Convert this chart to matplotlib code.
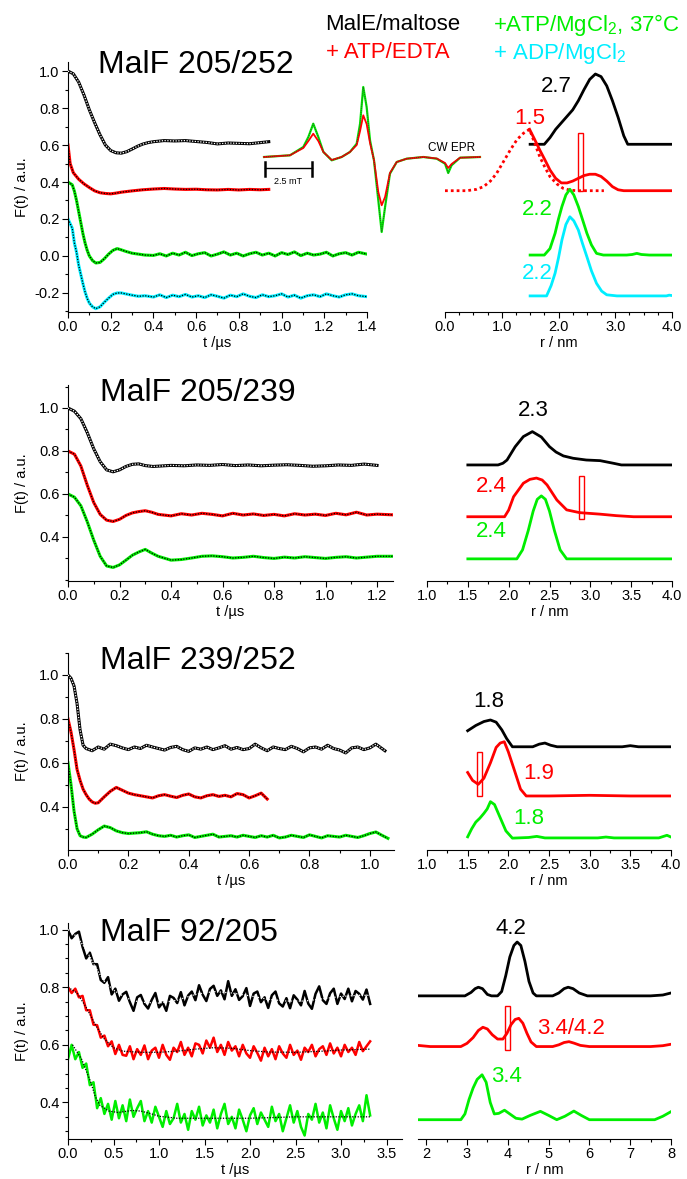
import numpy as np
import matplotlib
matplotlib.use("Agg")
import matplotlib.pyplot as plt
from matplotlib.patches import Rectangle
from matplotlib.ticker import MultipleLocator, FormatStrFormatter

# ---------------- colours ----------------
BLACK = "#000000"
RED = "#ff0000"
GREEN = "#00ee00"
CYAN = "#00eeff"

# ================= panel 1 : MalF 205/252 =================
t1_black = [0, .025, .05, .075, .1, .125, .15, .175, .2, .225, .25, .275, .3, .325, .35, .375, .4, .45, .5, .55,
            .6, .65, .7, .75, .8, .85, .9, .94]
f1_black = [1.0, .985, .94, .87, .79, .72, .655, .6, .57, .558, .556, .564, .578, .593, .605, .613, .618, .624, .622, .624,
            .619, .614, .606, .611, .609, .607, .613, .618]
t1_red = [0, .01, .025, .05, .075, .1, .125, .15, .175, .2, .225, .25, .3, .35, .4, .45, .5, .55, .6, .65,
          .7, .75, .8, .85, .9, .94]
f1_red = [.6, .5, .45, .415, .39, .37, .352, .342, .338, .336, .34, .345, .352, .358, .362, .365, .362, .36, .361, .358,
          .357, .36, .357, .36, .358, .36]
t1_gc = [0, .02, .03, .04, .05, .06, .07, .08, .09, .10, .115, .13, .15, .17, .19, .21, .23, .25, .27, .30,
         .33, .36, .40, .43, .46, .49, .52, .55, .58, .61, .64, .67, .70, .73, .76, .79, .82, .85, .88, .91,
         .94, .97, 1.00, 1.03, 1.06, 1.09, 1.12, 1.15, 1.18, 1.21, 1.24, 1.27, 1.30, 1.33, 1.36, 1.40]
f1_green = [.40, .385, .35, .30, .24, .18, .12, .07, .03, .0, -.025, -.038, -.035, -.015, .01, .03, .04, .033, .025, .015,
            .01, .005, .003, .012, .0, .015, .005, .02, .002, .012, .018, .0, .01, .022, .005, .015, .0, .012, .02, .005,
            .015, .0, .018, .008, .022, .002, .015, .005, .01, .02, .0, .012, .018, .005, .02, .01]
f1_cyan = [.20, .15, .07, .02, -.05, -.10, -.15, -.195, -.23, -.255, -.275, -.285, -.275, -.25, -.228, -.208, -.2, -.2, -.205, -.212,
           -.218, -.215, -.222, -.21, -.225, -.212, -.22, -.208, -.222, -.215, -.225, -.21, -.218, -.228, -.212, -.22, -.205, -.218, -.225, -.21,
           -.22, -.215, -.205, -.222, -.212, -.228, -.215, -.21, -.22, -.205, -.215, -.222, -.21, -.205, -.215, -.22]

r1_black = [1.5, 1.75, 1.85, 1.95, 2.05, 2.15, 2.25, 2.35, 2.45, 2.55, 2.65, 2.75, 2.85, 2.95, 3.05, 3.15, 3.22, 4.0]
p1_black = [.604, .604, .64, .685, .72, .755, .79, .84, .90, .955, .984, .97, .92, .84, .75, .65, .604, .604]
r1_red = [1.49, 1.58, 1.67, 1.76, 1.85, 1.95, 2.05, 2.15, 2.25, 2.35, 2.45, 2.55, 2.65, 2.75, 2.85, 2.95, 3.05, 3.15, 4.0]
p1_red = [.685, .63, .573, .52, .465, .42, .395, .395, .405, .42, .435, .442, .442, .43, .405, .375, .358, .353, .353]
r1_red_dot = [0, .38, .55, .68, .8, .91, 1.03, 1.15, 1.27, 1.38, 1.49, 1.58, 1.67, 1.76, 1.85, 1.97, 2.08, 2.2, 2.32, 2.8]
p1_red_dot = [.353, .353, .36, .375, .405, .447, .51, .573, .63, .663, .685, .61, .537, .48, .429, .39, .366, .356, .353, .353]
r1_green = [1.5, 1.75, 1.85, 1.94, 2.0, 2.06, 2.13, 2.2, 2.27, 2.35, 2.42, 2.5, 2.58, 2.67, 2.79, 3.2, 3.3, 3.38, 3.46, 3.6, 4.0]
p1_green = [.005, .005, .04, .123, .2, .267, .33, .361, .33, .267, .2, .123, .06, .014, .005, .005, .008, .014, .008, .005, .005]
r1_cyan = [1.5, 1.79, 1.87, 1.94, 2.0, 2.06, 2.13, 2.2, 2.27, 2.35, 2.42, 2.5, 2.58, 2.67, 2.76, 2.85, 3.03, 3.9, 3.95, 4.0]
p1_cyan = [-.216, -.216, -.16, -.093, -.01, .086, .17, .212, .19, .14, .07, -.004, -.08, -.148, -.19, -.21, -.216, -.216, -.212, -.214]

# CW EPR spectra (field in mT, arbitrary intensity)
epr_field = [0, 1.38, 2.09, 2.36, 2.62, 2.89, 3.16, 3.60, 4.13, 4.57, 4.93, 5.11, 5.28, 5.46, 5.64, 5.85, 6.08, 6.26, 6.44, 6.70,
             7.06, 7.59, 8.48, 9.19, 9.63, 9.80, 9.98, 10.43, 11.49]
epr_green = [0, .17, 1.0, 2.0, 3.33, 2.0, .5, -.33, 0, .5, 1.33, 3.33, 7.0, 5.0, 1.67, -.33, -4.33, -7.5, -5.0, -1.67,
             -.5, -.17, 0, -.17, -.67, -1.6, -.83, -.07, 0]
epr_red = [0, .17, .9, 1.6, 2.33, 1.6, .5, -.3, 0, .5, 1.2, 2.6, 4.17, 3.3, 1.4, -.3, -3.5, -4.83, -4.0, -1.6,
           -.5, -.17, 0, -.15, -.6, -1.1, -.7, -.07, 0]

# ================= panel 2 : MalF 205/239 =================
t2_black = [0, .025, .05, .075, .1, .125, .15, .175, .2, .225, .25, .275, .3, .33, .36, .4, .45, .5, .55, .6,
            .65, .7, .75, .8, .85, .9, .95, 1.0, 1.05, 1.1, 1.15, 1.2]
f2_black = [1.0, .985, .95, .885, .81, .75, .712, .703, .712, .728, .738, .74, .732, .728, .73, .733, .731, .735, .733, .737,
            .732, .735, .731, .734, .736, .733, .729, .731, .735, .733, .739, .733]
t2 = [0, .025, .05, .075, .1, .125, .15, .175, .2, .225, .25, .275, .3, .325, .35, .4, .44, .48, .52, .56,
      .6, .64, .68, .72, .76, .8, .84, .88, .92, .96, 1.0, 1.04, 1.08, 1.12, 1.16, 1.2, 1.26]
f2_red = [.8, .785, .73, .64, .56, .505, .478, .472, .482, .5, .512, .518, .522, .515, .505, .498, .508, .502, .51, .505,
          .498, .51, .502, .507, .5, .505, .498, .508, .502, .506, .5, .51, .503, .515, .502, .506, .503]
f2_green = [.6, .585, .545, .47, .385, .31, .265, .258, .27, .292, .315, .33, .342, .325, .31, .292, .295, .302, .31, .312,
            .308, .302, .305, .31, .304, .3, .306, .302, .308, .304, .3, .305, .308, .302, .306, .31, .31]

r2_black = [1.5, 1.87, 1.93, 1.98, 2.08, 2.18, 2.29, 2.4, 2.5, 2.58, 2.67, 2.79, 2.95, 3.12, 3.28, 3.38, 4.0]
p2_black = [.735, .735, .743, .758, .82, .867, .89, .865, .82, .795, .777, .766, .758, .755, .743, .735, .735]
r2_red = [1.5, 1.95, 2.0, 2.06, 2.18, 2.26, 2.34, 2.41, 2.47, 2.59, 2.71, 2.87, 3.12, 3.32, 3.53, 4.0]
p2_red = [.494, .494, .525, .587, .65, .668, .674, .665, .642, .572, .526, .513, .506, .499, .494, .494]
r2_green = [1.5, 2.1, 2.17, 2.24, 2.3, 2.35, 2.4, 2.45, 2.5, 2.56, 2.63, 2.71, 4.0]
p2_green = [.298, .298, .34, .43, .52, .575, .591, .575, .52, .43, .34, .298, .298]

# ================= panel 3 : MalF 239/252 =================
t3_black = [0, .01, .02, .03, .04, .05, .06, .08, .10, .12, .14, .16, .18, .20, .22, .24, .26, .28, .30, .32,
            .34, .36, .38, .40, .42, .44, .46, .48, .50, .52, .54, .56, .58, .60, .62, .64, .66, .68, .70, .72,
            .74, .76, .78, .80, .82, .84, .86, .88, .90, .92, .94, .96, .98, 1.00, 1.02, 1.04, 1.05]
f3_black = [1.0, .985, .95, .87, .75, .68, .665, .655, .672, .662, .685, .678, .668, .66, .672, .665, .68, .672, .665, .658,
            .67, .675, .66, .652, .668, .662, .672, .66, .668, .678, .662, .67, .66, .665, .685, .668, .655, .672, .665, .66,
            .675, .665, .65, .668, .672, .662, .68, .665, .658, .645, .668, .672, .66, .668, .685, .665, .655]
t3_red = [0, .01, .02, .03, .04, .05, .06, .07, .08, .09, .10, .12, .14, .16, .18, .20, .22, .24, .26, .28,
          .30, .32, .34, .36, .38, .40, .42, .44, .46, .48, .50, .52, .54, .56, .58, .60, .62, .64, .66]
f3_red = [.8, .74, .66, .57, .52, .48, .455, .435, .422, .416, .418, .445, .47, .488, .475, .462, .455, .45, .445, .44,
          .45, .455, .448, .442, .452, .458, .445, .44, .45, .455, .447, .452, .445, .46, .455, .44, .45, .462, .435]
t3_green = [0, .01, .02, .03, .04, .05, .06, .08, .10, .12, .14, .16, .18, .20, .22, .24, .26, .28, .30, .32,
            .34, .36, .38, .40, .42, .44, .46, .48, .50, .52, .54, .56, .58, .60, .62, .64, .66, .68, .70, .72,
            .74, .76, .78, .80, .82, .84, .86, .88, .90, .92, .94, .96, .98, 1.00, 1.02, 1.04, 1.06]
f3_green = [.6, .5, .38, .3, .268, .262, .26, .275, .295, .312, .305, .29, .282, .278, .28, .282, .286, .275, .268, .265,
            .27, .262, .268, .272, .26, .265, .27, .275, .262, .265, .268, .262, .27, .265, .26, .268, .262, .27, .258, .262,
            .27, .265, .26, .272, .265, .258, .268, .265, .262, .27, .265, .26, .268, .278, .285, .27, .256]

r3_black = [1.5, 1.6, 1.7, 1.78, 1.85, 1.92, 1.98, 2.05, 2.3, 2.38, 2.45, 2.52, 2.6, 3.4, 3.5, 3.6, 4.0]
p3_black = [.746, .77, .788, .795, .785, .75, .71, .673, .673, .685, .69, .68, .673, .673, .678, .673, .673]
r3_red = [1.5, 1.56, 1.63, 1.7, 1.78, 1.85, 1.9, 1.95, 2.0, 2.08, 2.15, 2.22, 2.5, 3.0, 3.5, 4.0]
p3_red = [.556, .52, .502, .53, .6, .67, .69, .696, .65, .56, .48, .449, .449, .452, .449, .449]
r3_green = [1.5, 1.55, 1.6, 1.65, 1.7, 1.74, 1.78, 1.83, 1.9, 1.97, 2.05, 2.25, 2.35, 2.45, 3.1, 3.2, 3.3, 3.85, 3.95, 4.0]
p3_green = [.263, .3, .33, .348, .37, .39, .423, .41, .35, .29, .257, .26, .265, .258, .258, .262, .258, .258, .27, .262]

# ================= panel 4 : MalF 92/205 =================
t4 = np.linspace(0, 3.32, 84)
f4_black = [1.0, .97, .985, .993, .94, .90, .92, .88, .88, .825, .815, .835, .775, .795, .753, .775, .784, .748, .718, .765,
            .773, .742, .726, .756, .78, .73, .747, .718, .77, .763, .745, .783, .737, .771, .785, .755, .807, .774, .752, .794,
            .805, .77, .789, .758, .821, .77, .793, .756, .769, .797, .735, .778, .785, .748, .765, .728, .772, .785, .744, .733,
            .762, .727, .772, .757, .737, .787, .743, .725, .777, .803, .755, .742, .779, .795, .742, .778, .759, .795, .751, .787,
            .777, .757, .792, .742]
f4_red = [.80, .78, .795, .765, .77, .72, .72, .67, .668, .625, .632, .595, .612, .568, .6, .565, .562, .595, .55, .585,
          .565, .598, .55, .58, .59, .555, .6, .565, .548, .59, .575, .61, .565, .59, .56, .605, .6, .57, .615, .59,
          .625, .575, .6, .565, .61, .58, .595, .56, .6, .57, .555, .595, .572, .545, .59, .56, .585, .55, .595, .57,
          .555, .6, .565, .58, .548, .59, .575, .6, .56, .585, .595, .565, .605, .57, .59, .56, .6, .575, .59, .565,
          .61, .578, .595, .612]
f4_green = [.55, .60, .55, .575, .52, .535, .46, .47, .38, .415, .36, .395, .34, .405, .345, .39, .335, .41, .35, .38,
            .405, .335, .37, .33, .385, .35, .315, .37, .325, .345, .395, .33, .36, .305, .37, .34, .385, .32, .355, .33,
            .375, .31, .36, .395, .325, .35, .31, .375, .34, .30, .355, .38, .325, .365, .34, .315, .385, .335, .36, .30,
            .345, .39, .33, .37, .315, .285, .36, .34, .395, .33, .365, .31, .39, .345, .305, .37, .335, .38, .32, .36,
            .39, .335, .425, .355]
fit4_black_t = [0, .1, .2, .3, .4, .5, .6, .7, .8, 1.0, 1.2, 1.4, 1.6, 1.8, 2.0, 2.2, 2.4, 2.6, 2.8, 3.0, 3.2, 3.32]
fit4_black = [1.0, .975, .93, .87, .82, .79, .77, .755, .748, .745, .755, .775, .785, .78, .77, .758, .752, .752, .76, .768, .772, .772]
fit4_red_t = [0, .1, .2, .3, .4, .5, .6, .8, 1.0, 1.2, 1.4, 1.6, 1.8, 2.0, 2.2, 2.5, 2.8, 3.0, 3.32]
fit4_red = [.80, .78, .73, .67, .62, .59, .578, .574, .574, .578, .585, .59, .588, .58, .575, .574, .578, .582, .585]
fit4_green_t = [.05, .15, .25, .3, .35, .45, .55, .7, .8, .9, 1.0, 1.2, 1.5, 2.0, 2.5, 3.0, 3.32]
fit4_green = [.6, .55, .47, .42, .39, .37, .365, .372, .37, .362, .352, .345, .345, .345, .35, .35, .35]

r4_black = [1.8, 2.95, 3.1, 3.2, 3.28, 3.38, 3.5, 3.6, 3.75, 3.85, 3.95, 4.05, 4.15, 4.23, 4.32, 4.42, 4.52, 4.62, 4.7, 5.1,
            5.25, 5.38, 5.48, 5.6, 5.75, 5.95, 7.5, 7.8, 8.0]
p4_black = [.77, .77, .782, .795, .8, .795, .775, .77, .77, .785, .84, .905, .945, .957, .945, .89, .82, .78, .77, .77,
            .78, .795, .80, .795, .78, .77, .77, .773, .78]
r4_red = [1.8, 2.1, 2.85, 3.0, 3.15, 3.28, 3.39, 3.5, 3.62, 3.75, 3.88, 3.98, 4.08, 4.18, 4.27, 4.37, 4.47, 4.57, 4.7, 5.1,
          5.25, 5.38, 5.5, 5.62, 5.78, 6.0, 7.5, 7.8, 8.0]
p4_red = [.598, .594, .594, .605, .625, .65, .661, .655, .635, .62, .62, .64, .67, .688, .692, .675, .64, .61, .594, .594,
          .6, .608, .611, .606, .598, .594, .594, .597, .602]
r4_green = [1.8, 2.85, 2.95, 3.05, 3.15, 3.25, 3.37, 3.47, 3.57, 3.67, 3.78, 3.92, 4.05, 4.2, 4.35, 4.55, 4.8, 5.0, 5.2, 5.4,
            5.62, 5.8, 6.0, 7.6, 7.8, 8.0]
p4_green = [.34, .34, .36, .41, .45, .48, .496, .47, .4, .36, .362, .373, .36, .345, .342, .355, .369, .355, .34, .352,
            .37, .355, .34, .34, .352, .368]

# ---------------- style ----------------
plt.rcParams.update({
    "font.family": ["Liberation Sans", "DejaVu Sans"],
    "axes.unicode_minus": False,
    "mathtext.fontset": "custom",
    "mathtext.rm": "Liberation Sans",
    "mathtext.it": "Liberation Sans:italic",
    "axes.linewidth": 0.8,
})

W, H = 687, 1179
fig = plt.figure(figsize=(W / 100, H / 100), dpi=100)


def box(l, t, r, b):
    return fig.add_axes([l / W, 1 - b / H, (r - l) / W, (b - t) / H])


def ticks(ax):
    ax.tick_params(which="major", direction="out", length=4, width=0.8, labelsize=10.5, pad=2)
    ax.tick_params(which="minor", direction="out", length=2.3, width=0.8)
    ax.patch.set_alpha(0)


def left_axes(pos, xlim, ylim, xmaj, xmin, yticks, ymin):
    ax = box(*pos)
    ax.set_xlim(xlim)
    ax.set_ylim(ylim)
    for s in ("top", "right"):
        ax.spines[s].set_visible(False)
    ax.xaxis.set_major_locator(MultipleLocator(xmaj))
    ax.xaxis.set_minor_locator(MultipleLocator(xmin))
    ax.set_yticks(yticks)
    ax.yaxis.set_minor_locator(MultipleLocator(ymin))
    ax.xaxis.set_major_formatter(FormatStrFormatter("%.1f"))
    ax.yaxis.set_major_formatter(FormatStrFormatter("%.1f"))
    ticks(ax)
    l, t, r, b = pos
    fig.text((l + r) / 2 / W, 1 - (b + 31) / H, "t /µs", ha="center", va="center", fontsize=10.5)
    fig.text(22 / W, 1 - (t + b) / 2 / H, "F(t) / a.u.", ha="center", va="center", rotation=90, fontsize=10.5)
    return ax


def right_axes(pos, xlim, ylim, xmaj, xmin, fmt="%.1f"):
    ax = box(*pos)
    ax.set_xlim(xlim)
    ax.set_ylim(ylim)
    for s in ("top", "right", "left"):
        ax.spines[s].set_visible(False)
    ax.set_yticks([])
    ax.xaxis.set_major_locator(MultipleLocator(xmaj))
    ax.xaxis.set_minor_locator(MultipleLocator(xmin))
    ax.xaxis.set_major_formatter(FormatStrFormatter(fmt))
    ticks(ax)
    l, t, r, b = pos
    fig.text((l + r) / 2 / W, 1 - (b + 31) / H, "r / nm", ha="center", va="center", fontsize=10.5)
    return ax


def trace(ax, t, v, color, fit_t=None, fit_v=None, lw=2.2):
    ax.plot(t, v, color=color, lw=lw, solid_joinstyle="round", zorder=2)
    if fit_t is None:
        fit_t, fit_v = t, v
    ax.plot(fit_t, fit_v, color="white" if color == BLACK else "black", lw=0.9,
            ls=(0, (1, 1.2)), zorder=3)


def dist(ax, r, p, color, ls="-"):
    ax.plot(r, p, color=color, lw=2.0, ls=ls, solid_joinstyle="round", zorder=2)


def label(ax, x, y, s, color):
    ax.text(x, y, s, color=color, fontsize=16, ha="center", va="center", clip_on=False)


def marker_box(ax, x0, y0, w, h):
    ax.add_patch(Rectangle((x0, y0), w, h, fill=False, edgecolor=RED, lw=1.0, zorder=4))


def title(x, y, s):
    fig.text(x / W, 1 - y / H, s, fontsize=23, ha="left", va="center")


# ---------------- panel 1 ----------------
yl1 = (-0.303, 1.049)
a1 = left_axes((68, 62, 367, 312), (0, 1.4), yl1, 0.2, 0.1, [-0.2, 0, 0.2, 0.4, 0.6, 0.8, 1.0], 0.1)
trace(a1, t1_black, f1_black, BLACK)
trace(a1, t1_red, f1_red, RED)
trace(a1, t1_gc, f1_green, GREEN)
trace(a1, t1_gc, f1_cyan, CYAN)

b1 = right_axes((445, 62, 672, 312), (0, 4.0), yl1, 1.0, 0.25)
dist(b1, r1_black, p1_black, BLACK)
dist(b1, r1_red_dot, p1_red_dot, RED, ls=(0, (1, 1.1)))
dist(b1, r1_red, p1_red, RED)
dist(b1, r1_green, p1_green, GREEN)
dist(b1, r1_cyan, p1_cyan, CYAN)
marker_box(b1, 2.35, 0.353, 0.09, 0.31)
label(b1, 1.97, 0.915, "2.7", BLACK)
label(b1, 1.5, 0.744, "1.5", RED)
label(b1, 1.62, 0.249, "2.2", GREEN)
label(b1, 1.62, -0.094, "2.2", CYAN)

# CW EPR inset
e = box(258, 80, 486, 240)
e.set_xlim(-0.32, 11.81)
e.set_ylim(-8.3, 7.7)
e.axis("off")
e.plot(epr_field, epr_green, color=GREEN, lw=1.6)
e.plot(epr_field, epr_red, color=RED, lw=1.3)
e.plot(epr_field, epr_green, color="#333333", lw=0.6, ls=(0, (1, 1.5)))
e.plot([0.05, 2.55], [-1.1, -1.1], color=BLACK, lw=1.0)
e.plot([0.05, 0.05], [-0.5, -1.9], color=BLACK, lw=1.8)
e.plot([2.55, 2.55], [-0.5, -1.9], color=BLACK, lw=1.8)
e.text(1.3, -2.5, "2.5 mT", fontsize=6.5, ha="center", va="center")
e.text(10.0, 0.9, "CW EPR", fontsize=8.5, ha="center", va="center")

title(98, 65, "MalF 205/252")
fig.text(325 / W, 1 - 25 / H, "MalE/maltose", fontsize=16, color=BLACK, va="center")
fig.text(326 / W, 1 - 53 / H, "+ ATP/EDTA", fontsize=16, color=RED, va="center")
fig.text(493 / W, 1 - 25 / H, "+ATP/MgCl$_{2}$, 37°C", fontsize=16, color=GREEN, va="center")
fig.text(493 / W, 1 - 53 / H, "+ ADP/MgCl$_{2}$", fontsize=16, color=CYAN, va="center")

# ---------------- panel 2 ----------------
yl2 = (0.195, 1.107)
a2 = left_axes((68, 385, 393, 581), (0, 1.262), yl2, 0.2, 0.1, [0.4, 0.6, 0.8, 1.0], 0.1)
trace(a2, t2_black, f2_black, BLACK)
trace(a2, t2, f2_red, RED)
trace(a2, t2, f2_green, GREEN)

b2 = right_axes((427, 385, 672, 581), (1.0, 4.0), yl2, 0.5, 0.25)
dist(b2, r2_black, p2_black, BLACK)
dist(b2, r2_red, p2_red, RED)
dist(b2, r2_green, p2_green, GREEN)
marker_box(b2, 2.86, 0.484, 0.065, 0.201)
label(b2, 2.30, 0.988, "2.3", BLACK)
label(b2, 1.79, 0.634, "2.4", RED)
label(b2, 1.79, 0.425, "2.4", GREEN)
title(100, 393, "MalF 205/239")

# ---------------- panel 3 ----------------
yl3 = (0.203, 1.10)
a3 = left_axes((68, 653, 394, 850), (0, 1.08), yl3, 0.2, 0.1, [0.4, 0.6, 0.8, 1.0], 0.1)
trace(a3, t3_black, f3_black, BLACK)
trace(a3, t3_red, f3_red, RED)
trace(a3, t3_green, f3_green, GREEN)

b3 = right_axes((427, 653, 671, 850), (1.0, 4.0), yl3, 0.5, 0.25)
dist(b3, r3_black, p3_black, BLACK)
dist(b3, r3_red, p3_red, RED)
dist(b3, r3_green, p3_green, GREEN)
marker_box(b3, 1.615, 0.45, 0.06, 0.198)
label(b3, 1.755, 0.878, "1.8", BLACK)
label(b3, 2.37, 0.552, "1.9", RED)
label(b3, 2.25, 0.347, "1.8", GREEN)
title(100, 661, "MalF 239/252")

# ---------------- panel 4 ----------------
yl4 = (0.273, 1.023)
a4 = left_axes((68, 923, 402, 1139), (0, 3.67), yl4, 0.5, 0.25, [0.4, 0.6, 0.8, 1.0], 0.05)
trace(a4, t4, f4_black, BLACK, fit4_black_t, fit4_black, lw=1.8)
trace(a4, t4, f4_red, RED, fit4_red_t, fit4_red, lw=1.8)
trace(a4, t4, f4_green, GREEN, fit4_green_t, fit4_green, lw=1.8)

b4 = right_axes((418, 923, 671, 1139), (1.8, 8.0), yl4, 1.0, 0.5, fmt="%d")
dist(b4, r4_black, p4_black, BLACK)
dist(b4, r4_red, p4_red, RED)
dist(b4, r4_green, p4_green, GREEN)
marker_box(b4, 3.92, 0.582, 0.14, 0.153)
label(b4, 4.07, 1.003, "4.2", BLACK)
label(b4, 5.56, 0.657, "3.4/4.2", RED)
label(b4, 3.97, 0.49, "3.4", GREEN)
title(100, 933, "MalF 92/205")

fig.savefig("out.png", dpi=100)
